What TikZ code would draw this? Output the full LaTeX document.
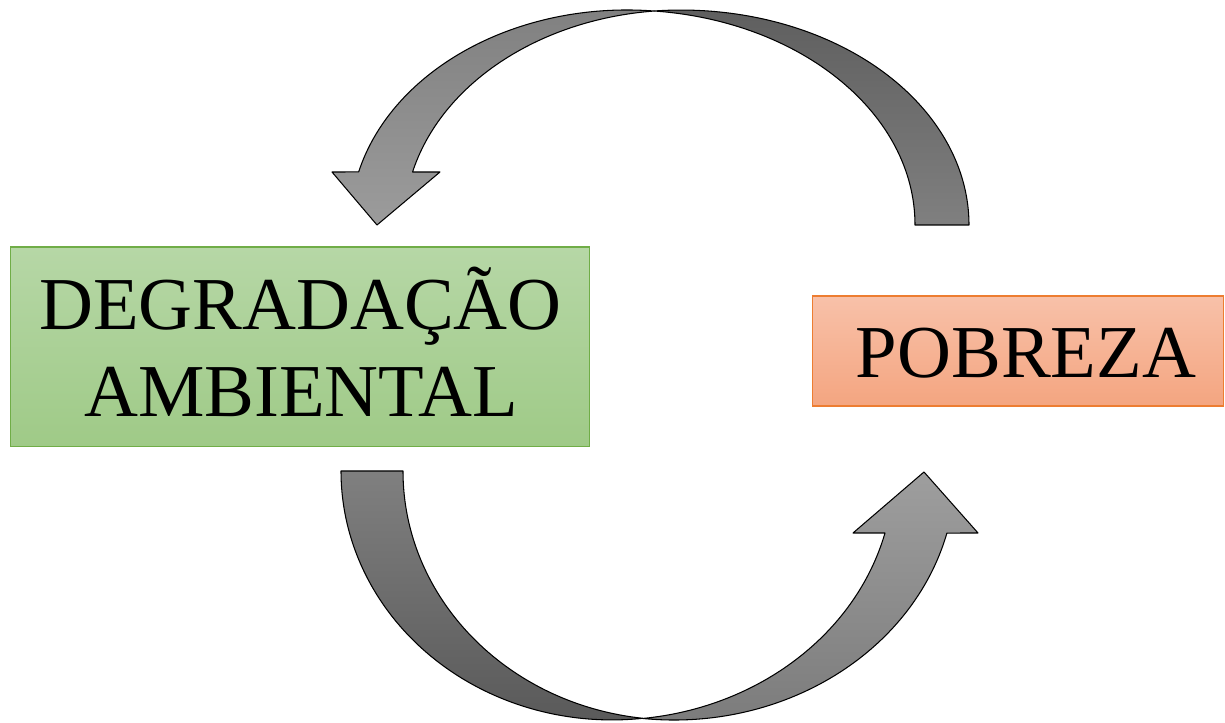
\documentclass[tikz,border=0pt]{standalone}
\usepackage{fontspec}
\setmainfont{Liberation Serif}
\definecolor{greentop}{HTML}{B6D7A6}
\definecolor{greenbot}{HTML}{9FCA87}
\definecolor{greenline}{HTML}{70AD47}
\definecolor{orangetop}{HTML}{F8C1A9}
\definecolor{orangebot}{HTML}{F4A580}
\definecolor{orangeline}{HTML}{ED7D31}
\begin{document}
\begin{tikzpicture}[x=0.02cm,y=0.02cm,
  band/.style={draw=black, line width=0.6pt, line join=round},
  gbox/.style={draw=greenline, line width=0.6pt, top color=greentop, bottom color=greenbot, minimum width=11.6cm, minimum height=4cm, inner sep=0},
  obox/.style={draw=orangeline, line width=0.6pt, top color=orangetop, bottom color=orangebot, minimum width=8.24cm, minimum height=2.2cm, inner sep=0},
  lbl/.style={font=\fontsize{42.5}{49}\selectfont, anchor=base, inner sep=0}]
\useasboundingbox (0,0) rectangle (1225,723);
% boxes
\node[gbox] (deg) at (300,376) {};
\node[obox] (pob) at (1018,372) {};
\node[lbl] (degA) at (300.5,393) {DEGRADAÇÃO};
\node[lbl] (degB) at (301,306) {AMBIENTAL};
\node[lbl] (pobT) at (1026,345) {POBREZA};
% top curved arrow (from POBREZA back to DEGRADACAO)
\path[band, top color=black!63, bottom color=black!50]
  (969,498) arc[start angle=0, end angle=95.38, x radius=5.76cm, y radius=4.3cm]
  arc[start angle=84.62, end angle=0, x radius=5.76cm, y radius=4.3cm] -- cycle;
\path[band, top color=black!50, bottom color=black!39]
  (654,711.98) arc[start angle=84.41, end angle=165.73, x radius=5.54cm, y radius=4.3cm]
  -- (332,551) -- (377,498) -- (440,551) -- (412.56,551)
  arc[start angle=165.73, end angle=95.59, x radius=5.54cm, y radius=4.3cm] -- cycle;
% bottom curved arrow (from DEGRADACAO to POBREZA)
\path[band, top color=black!50, bottom color=black!65]
  (341,252) arc[start angle=180, end angle=276.57, x radius=5.42cm, y radius=4.98cm]
  arc[start angle=263.43, end angle=180, x radius=5.42cm, y radius=4.98cm] -- cycle;
\path[band, top color=black!38, bottom color=black!52]
  (643,4.5) arc[start angle=263.69, end angle=345.58, x radius=5.638cm, y radius=4.98cm]
  -- (978,190) -- (924,251) -- (853,190) -- (885,190)
  arc[start angle=345.58, end angle=276.31, x radius=5.638cm, y radius=4.98cm] -- cycle;
\end{tikzpicture}
\end{document}
